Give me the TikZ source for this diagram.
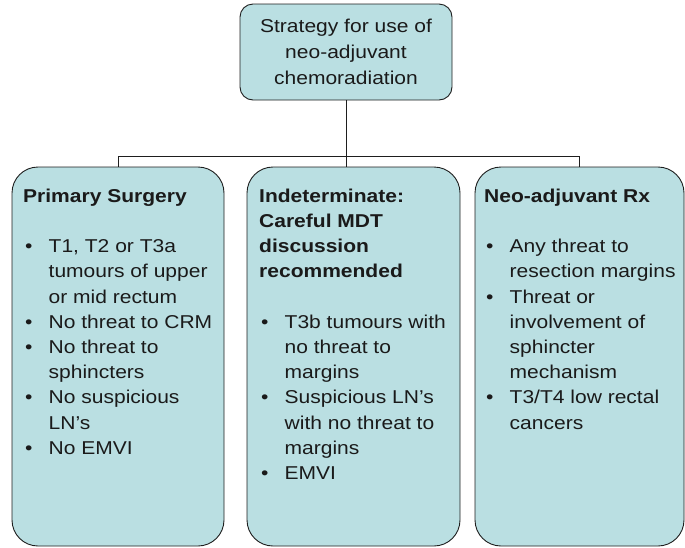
\documentclass[tikz,border=0pt]{standalone}
\usepackage{fontspec}
\setmainfont{Liberation Sans}[FakeStretch=1.13]
\definecolor{boxfill}{HTML}{BADFE2}
\definecolor{linec}{HTML}{1E1E1E}
\definecolor{textc}{HTML}{1A1A1A}
\newcommand\mybul{\makebox[25.5pt][l]{\hspace{2pt}•}}
\newcommand\myind{\hspace*{25.5pt}}
\begin{document}
\begin{tikzpicture}[x=1pt,y=-1pt,
  box/.style={draw=linec, fill=boxfill, line width=0.9pt, rounded corners=26pt, inner sep=0pt},
  conn/.style={draw=linec, line width=0.9pt},
  txt/.style={anchor=north west, align=left, inner sep=0pt, text=textc, font=\fontsize{18.6}{25.2}\selectfont},
]
\useasboundingbox (0,0) rectangle (685,547);
\node[box, minimum width=212pt, minimum height=96pt, rounded corners=13pt, align=center,
      text=textc, font=\fontsize{18.6}{26}\selectfont] (top) at (346,52)
  {Strategy for use of\\neo-adjuvant\\chemoradiation};
\node[box, minimum width=212pt, minimum height=379pt] (left) at (118,356.5) {};
\node[box, minimum width=213pt, minimum height=379pt] (mid) at (353.5,356.5) {};
\node[box, minimum width=209pt, minimum height=379pt] (right) at (579.5,356.5) {};
\coordinate (hub) at (top.south |- 0,156);
\draw[conn] (top.south) -- (top.south |- mid.north);
\draw[conn] (left.north) -- (hub -| left.north) -- (hub -| right.north) -- (right.north);
\node[txt] (lefttext) at (23,184.5) {\strut\textbf{Primary Surgery}\\[25.2pt]
  \mybul T1, T2 or T3a\\
  \myind tumours of upper\\
  \myind or mid rectum\\
  \mybul No threat to CRM\\
  \mybul No threat to\\
  \myind sphincters\\
  \mybul No suspicious\\
  \myind LN’s\\
  \mybul No EMVI};
\node[txt] (midtext) at (259,184.5) {\strut\textbf{Indeterminate:}\\
  \textbf{Careful MDT}\\
  \textbf{discussion}\\
  \textbf{recommended}\\[25.2pt]
  \mybul T3b tumours with\\
  \myind no threat to\\
  \myind margins\\
  \mybul Suspicious LN’s\\
  \myind with no threat to\\
  \myind margins\\
  \mybul EMVI};
\node[txt] (righttext) at (484,184.5) {\strut\textbf{Neo-adjuvant Rx}\\[25.2pt]
  \mybul Any threat to\\
  \myind resection margins\\
  \mybul Threat or\\
  \myind involvement of\\
  \myind sphincter\\
  \myind mechanism\\
  \mybul T3/T4 low rectal\\
  \myind cancers};
\end{tikzpicture}
\end{document}
